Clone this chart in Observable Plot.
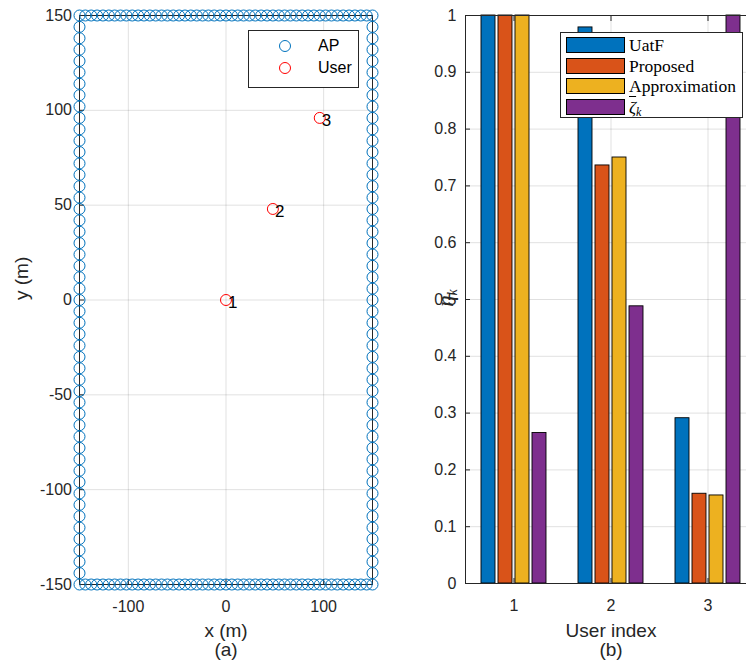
<!DOCTYPE html>
<html>
<head>
<meta charset="utf-8">
<script src="https://cdn.jsdelivr.net/npm/d3@7"></script>
<script src="https://cdn.jsdelivr.net/npm/@observablehq/plot@0.6"></script>
<style>
html, body { margin: 0; padding: 0; background: #fff; overflow: hidden; }
#fig { position: relative; width: 746px; height: 660px; overflow: hidden; font-family: 'Liberation Sans', Arial, sans-serif; color: #262626; }
.abs { position: absolute; }
.leg1 { left: 248px; top: 30px; width: 109px; height: 56px; border: 1px solid #262626; background: #fff; font-size: 16px; }
.leg1 .row { position: absolute; left: 0; height: 20px; width: 100%; }
.leg1 svg { position: absolute; left: 29px; top: 3px; }
.leg1 span { position: absolute; left: 69px; top: 1px; color: #000; }
.leg2 { left: 560px; top: 32px; width: 181px; height: 84px; border: 1px solid #262626; background: #fff; font-family: 'Liberation Serif', 'Times New Roman', serif; font-size: 17.5px; color: #000; }
.leg2 .sw { position: absolute; left: 5px; width: 57px; height: 14px; border: 1px solid #000; }
.leg2 .lb { position: absolute; left: 68px; line-height: 16px; white-space: nowrap; }
</style>
</head>
<body>
<div id="fig">
  <div id="left" class="abs" style="left:0;top:0"></div>
  <div id="right" class="abs" style="left:380px;top:0"></div>
  <div id="leg1" class="abs leg1"></div>
  <div id="leg2" class="abs leg2"></div>
  <div class="abs" style="left:446px;top:298px;transform:translate(-50%,-50%) rotate(-90deg);font-family:'Liberation Serif','Times New Roman',serif;font-size:23px;font-style:italic;white-space:nowrap;color:#262626">η<span style="font-size:14px;position:relative;top:4px">k</span></div>
</div>
<script>
// ---- data ----
const sideCoords = [-150,-144,-138,-132,-126,-120,-114,-108,-102,-96,-90,-84,-78,-72,-66,-60,-54,-48,-42,-36,-30,-24,-18,-12,-6,0,6,12,18,24,30,36,42,48,54,60,66,72,78,84,90,96,102,108,114,120,126,132,138,144,150];
const users = [1, 2, 3];
const userX = [0, 48, 96];
const userY = [0, 48, 96];

const series = ["UatF", "Proposed", "Approximation", "zetaBar"];
const seriesColors = ["#0072BD", "#D95319", "#EDB120", "#7E2F8E"];
const uatf = [1.0, 0.979, 0.291];
const proposed = [1.0, 0.736, 0.158];
const approximation = [1.0, 0.750, 0.155];
const zetaBar = [0.265, 0.488, 1.0];

const leftXTicks = [-100, 0, 100];
const leftYTicks = [-150, -100, -50, 0, 50, 100, 150];
const rightYTicks = [0, 0.1, 0.2, 0.3, 0.4, 0.5, 0.6, 0.7, 0.8, 0.9, 1];

// ---- tables ----
const apPoints = [
  ...sideCoords.map(x => ({x, y: 150})),
  ...sideCoords.map(x => ({x, y: -150})),
  ...sideCoords.slice(1, -1).map(y => ({x: -150, y})),
  ...sideCoords.slice(1, -1).map(y => ({x: 150, y}))
];
const userPts = users.map((u, i) => ({u, x: userX[i], y: userY[i]}));
const seriesValues = [uatf, proposed, approximation, zetaBar];
const barData = [];
users.forEach((u, i) => series.forEach((s, j) => barData.push({user: u, series: s, value: seriesValues[j][i]})));

const baseStyle = "max-width:none;background:transparent;overflow:visible;font:16px 'Liberation Sans',Arial,sans-serif;color:#262626";
const gridStyle = {stroke: "#000", strokeOpacity: 0.12};

// ---- left plot ----
const left = Plot.plot({
  width: 390, height: 660,
  marginLeft: 79, marginRight: 18, marginTop: 15, marginBottom: 76,
  style: baseStyle,
  x: {domain: [-150, 150]},
  y: {domain: [-150, 150]},
  marks: [
    Plot.gridX(leftXTicks, gridStyle),
    Plot.gridY(leftYTicks.slice(1, -1), gridStyle),
    Plot.frame({stroke: "#262626"}),
    Plot.axisX(leftXTicks, {tickSize: -5, tickPadding: 21, tickFormat: d => String(d), label: null}),
    Plot.axisY(leftYTicks, {tickSize: -5, tickPadding: 12.5, tickFormat: d => String(d), label: null}),
    Plot.dot(apPoints, {x: "x", y: "y", r: 5.5, stroke: "#0072BD", strokeWidth: 1, fill: "none"}),
    Plot.dot(userPts, {x: "x", y: "y", r: 5.5, stroke: "#FF0000", strokeWidth: 1, fill: "none"}),
    Plot.text(userPts, {x: "x", y: "y", text: d => String(d.u), dx: 2, dy: 3, textAnchor: "start", fontSize: 17, fill: "#000"}),
    Plot.text(["x (m)"], {frameAnchor: "bottom", dy: 52, fontSize: 19}),
    Plot.text(["(a)"], {frameAnchor: "bottom", dy: 71, fontSize: 19}),
    Plot.text(["y (m)"], {frameAnchor: "left", dx: -58, rotate: -90, fontSize: 19})
  ]
});
document.getElementById("left").append(left);

// ---- right plot ----
const right = Plot.plot({
  width: 380, height: 660,
  marginLeft: 84, marginRight: 3.5, marginTop: 15, marginBottom: 77,
  style: baseStyle,
  fx: {domain: users, padding: 0, label: null},
  x: {domain: series, paddingInner: 0.167, paddingOuter: 0.79, axis: null},
  y: {domain: [0, 1]},
  color: {domain: series, range: seriesColors},
  marks: [
    Plot.gridY(rightYTicks.slice(1, -1), gridStyle),
    Plot.gridFx(gridStyle),
    Plot.barY(barData, {fx: "user", x: "series", y: "value", fill: "series", stroke: "#000", strokeWidth: 0.9}),
    Plot.frame({facet: "super", stroke: "#262626"}),
    Plot.axisY(rightYTicks, {tickSize: -5, tickPadding: 14, tickFormat: d => String(d), label: null}),
    Plot.axisFx({anchor: "bottom", tickSize: -5, tickPadding: 21, label: null}),
    Plot.axisFx({anchor: "top", tickSize: -5, tickFormat: () => "", label: null}),
    Plot.text(["User index"], {frameAnchor: "bottom", dy: 53, fontSize: 19, facet: "super"}),
    Plot.text(["(b)"], {frameAnchor: "bottom", dy: 72, fontSize: 19, facet: "super"})
  ]
});
document.getElementById("right").append(right);

// ---- legends ----
const leg1 = document.getElementById("leg1");
[["AP", "#0072BD", 5], ["User", "#FF0000", 27]].forEach(([name, col, top]) => {
  const row = document.createElement("div");
  row.className = "row";
  row.style.top = top + "px";
  row.innerHTML = `<svg width="14" height="14"><circle cx="7" cy="7" r="5.5" fill="none" stroke="${col}" stroke-width="1"/></svg><span>${name}</span>`;
  leg1.append(row);
});

const leg2 = document.getElementById("leg2");
const legTops = [4, 24.5, 45, 65.5];
series.forEach((s, i) => {
  const sw = document.createElement("div");
  sw.className = "sw";
  sw.style.top = legTops[i] + "px";
  sw.style.background = seriesColors[i];
  leg2.append(sw);
  const lb = document.createElement("div");
  lb.className = "lb";
  lb.style.top = legTops[i] + "px";
  if (s === "zetaBar") {
    lb.innerHTML = `<i><span style="text-decoration:overline">ζ</span><span style="font-size:12px;position:relative;top:3px">k</span></i>`;
  } else {
    lb.textContent = s;
  }
  leg2.append(lb);
});
</script>
</body>
</html>
